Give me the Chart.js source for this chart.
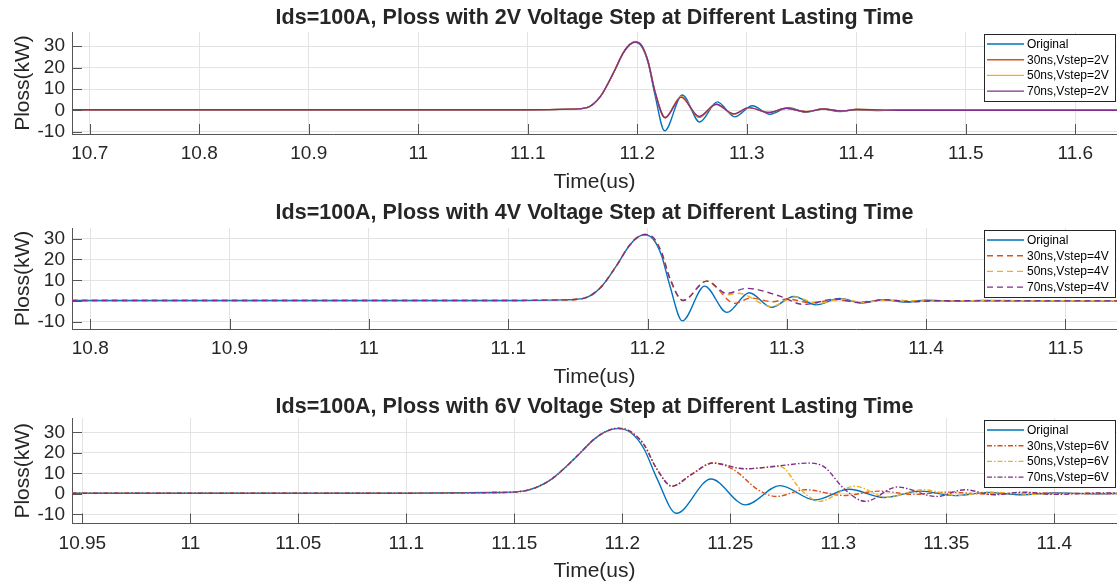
<!DOCTYPE html>
<html>
<head>
<meta charset="utf-8">
<script src="https://cdn.jsdelivr.net/npm/chart.js@4.4.1/dist/chart.umd.min.js"></script>
<style>
html,body{margin:0;padding:0;background:#ffffff;}
body{width:1117px;height:588px;position:relative;overflow:hidden;}
canvas{position:absolute;left:0;}
</style>
</head>
<body>
<canvas id="c1" width="1117" height="196" style="top:0px"></canvas>
<canvas id="c2" width="1117" height="195" style="top:196px"></canvas>
<canvas id="c3" width="1117" height="197" style="top:391px"></canvas>
<script>
// ---------------- DATA ----------------
const panelTitles = [
  "Ids=100A, Ploss with 2V Voltage Step at Different Lasting Time",
  "Ids=100A, Ploss with 4V Voltage Step at Different Lasting Time",
  "Ids=100A, Ploss with 6V Voltage Step at Different Lasting Time"
];
const labels2V = ["Original", "30ns,Vstep=2V", "50ns,Vstep=2V", "70ns,Vstep=2V"];
const labels4V = ["Original", "30ns,Vstep=4V", "50ns,Vstep=4V", "70ns,Vstep=4V"];
const labels6V = ["Original", "30ns,Vstep=6V", "50ns,Vstep=6V", "70ns,Vstep=6V"];

const xTicks1 = [10.7, 10.8, 10.9, 11, 11.1, 11.2, 11.3, 11.4, 11.5, 11.6];
const xTicks2 = [10.8, 10.9, 11, 11.1, 11.2, 11.3, 11.4, 11.5];
const xTicks3 = [10.95, 11, 11.05, 11.1, 11.15, 11.2, 11.25, 11.3, 11.35, 11.4];
const yTicks = [-10, 0, 10, 20, 30];

// common rising edge (time us, Ploss kW)
const rise = [[10.60,0.3],[11.00,0.3],[11.10,0.3],[11.14,0.6],[11.154,1.3],[11.166,6.3],[11.178,17.3],[11.187,26.7],[11.193,30.7]];

const original = rise.concat([[11.198,31.8],[11.204,29.8],[11.210,22.0],[11.216,7.5],[11.225,-9.5],[11.241,7.2],[11.257,-5.4],[11.273,4.0],[11.289,-3.0],[11.305,2.2],[11.321,-1.8],[11.338,1.3],[11.354,-0.9],[11.369,0.7],[11.385,-0.5],[11.400,0.4],[11.420,0.0],[11.440,0.3],[11.500,0.1],[11.700,0.1]]);

// 2V step
const s2v30 = rise.concat([[11.198,32.0],[11.204,30.2],[11.210,22.5],[11.216,9.0],[11.2254,-3.4],[11.240,6.3],[11.2565,-3.3],[11.272,2.9],[11.288,-1.8],[11.302,1.3],[11.320,-1.0],[11.336,1.0],[11.354,-0.6],[11.370,0.7],[11.386,-0.3],[11.400,0.4],[11.440,0.1],[11.700,0.1]]);
const s2v50 = rise.concat([[11.198,32.2],[11.204,30.4],[11.210,22.6],[11.216,9.2],[11.2254,-3.2],[11.240,6.5],[11.2565,-3.0],[11.272,2.8],[11.288,-1.7],[11.302,1.3],[11.320,-1.0],[11.336,1.0],[11.354,-0.6],[11.370,0.7],[11.386,-0.3],[11.400,0.4],[11.440,0.1],[11.700,0.1]]);
const s2v70 = rise.concat([[11.198,31.9],[11.204,30.2],[11.210,22.5],[11.216,9.0],[11.2254,-3.4],[11.240,6.2],[11.2565,-2.8],[11.272,2.9],[11.288,-1.6],[11.302,1.3],[11.320,-1.0],[11.336,1.0],[11.354,-0.6],[11.370,0.7],[11.386,-0.3],[11.400,0.4],[11.440,0.1],[11.700,0.1]]);

// 4V step
const s4v30 = rise.concat([[11.198,32.0],[11.204,30.5],[11.210,23.5],[11.216,11.0],[11.2255,0.3],[11.2425,9.6],[11.2628,-1.1],[11.274,1.5],[11.290,-0.3],[11.300,1.0],[11.318,-0.8],[11.335,0.6],[11.352,-0.4],[11.370,0.4],[11.400,0.0],[11.440,0.2],[11.700,0.1]]);
const s4v50 = rise.concat([[11.198,32.0],[11.204,30.5],[11.210,23.5],[11.216,11.0],[11.2255,0.3],[11.2425,9.6],[11.257,3.0],[11.265,3.8],[11.289,-2.6],[11.306,2.0],[11.322,-1.2],[11.339,1.0],[11.355,-0.6],[11.370,0.4],[11.400,0.0],[11.440,0.2],[11.700,0.1]]);
const s4v70 = rise.concat([[11.198,32.0],[11.204,30.5],[11.210,23.5],[11.216,11.0],[11.2255,0.3],[11.2425,9.6],[11.2568,3.7],[11.2712,6.1],[11.295,2.4],[11.312,-1.6],[11.335,1.0],[11.352,-0.8],[11.370,0.6],[11.390,-0.3],[11.410,0.2],[11.440,0.1],[11.700,0.1]]);

// 6V step
const s6v30 = rise.concat([[11.198,32.0],[11.204,30.2],[11.210,24.0],[11.216,12.0],[11.223,3.7],[11.232,9.5],[11.242,15.0],[11.2516,11.7],[11.2632,1.7],[11.2714,-1.3],[11.2845,2.0],[11.3026,-0.8],[11.319,1.3],[11.335,-0.3],[11.350,0.8],[11.370,-0.2],[11.390,0.4],[11.420,0.0],[11.700,0.2]]);
const s6v50 = rise.concat([[11.198,32.0],[11.204,30.2],[11.210,24.0],[11.216,12.0],[11.223,3.7],[11.232,9.5],[11.242,15.0],[11.2566,12.2],[11.273,13.3],[11.2829,1.7],[11.2911,-3.7],[11.3076,3.7],[11.3224,-1.7],[11.3388,2.0],[11.355,-0.8],[11.370,0.8],[11.390,-0.2],[11.420,0.3],[11.700,0.1]]);
const s6v70 = rise.concat([[11.198,32.0],[11.204,30.2],[11.210,24.0],[11.216,12.0],[11.223,3.7],[11.232,9.5],[11.242,15.0],[11.2566,12.2],[11.273,13.7],[11.2862,15.0],[11.2936,13.0],[11.3026,2.5],[11.3125,-3.7],[11.3273,3.3],[11.3454,-1.3],[11.3586,2.0],[11.372,-0.5],[11.385,0.8],[11.400,-0.3],[11.420,0.4],[11.700,0.2]]);

// ---------------- STYLE / LAYOUT ----------------
const FONT = '"Liberation Sans", Arial, Helvetica, sans-serif';
const TXT = '#262626';
const COLORS = ['#0072BD', '#D95319', '#EDB120', '#7E2F8E'];
const GRID = '#e3e3e3';

const panels = [
  {id:'c1', H:196, plotTop:32, plotBottom:134,   titleCenter:18,   title:panelTitles[0], labels:labels2V, series:[original,s2v30,s2v50,s2v70], dash:[],          xr:[10.6838,11.638], yr:[-11.0,36.6], xt:xTicks1},
  {id:'c2', H:195, plotTop:32, plotBottom:133,   titleCenter:17.5, title:panelTitles[1], labels:labels4V, series:[original,s4v30,s4v50,s4v70], dash:[6,4],       xr:[10.7869,11.537], yr:[-13.4,35.1], xt:xTicks2},
  {id:'c3', H:197, plotTop:27, plotBottom:132.5, titleCenter:16,   title:panelTitles[2], labels:labels6V, series:[original,s6v30,s6v50,s6v70], dash:[5,2,1.5,2], xr:[10.9452,11.429], yr:[-14.5,37.0], xt:xTicks3}
];

const innerTicks = {
  id: 'innerTicks',
  afterDraw(chart) {
    const {ctx, chartArea, scales} = chart;
    ctx.save();
    ctx.strokeStyle = '#555555';
    ctx.lineWidth = 1;
    ctx.beginPath();
    scales.x.ticks.forEach(t => {
      const px = Math.round(scales.x.getPixelForValue(t.value)) + 0.5;
      ctx.moveTo(px, chartArea.bottom);
      ctx.lineTo(px, chartArea.bottom - 10);
    });
    scales.y.ticks.forEach(t => {
      const py = Math.round(scales.y.getPixelForValue(t.value)) + 0.5;
      ctx.moveTo(chartArea.left, py);
      ctx.lineTo(chartArea.left + 10, py);
    });
    ctx.stroke();
    ctx.restore();
  }
};

const insideLegend = {
  id: 'insideLegend',
  afterDraw(chart) {
    const {ctx, chartArea} = chart;
    const ds = chart.data.datasets;
    ctx.save();
    ctx.font = '12px ' + FONT;
    let maxW = 0;
    ds.forEach(d => { maxW = Math.max(maxW, ctx.measureText(d.label).width); });
    const rowH = 15.7, lineLen = 37, pad = 3;
    const w = Math.round(pad + lineLen + 3 + maxW + 6);
    const h = Math.round(rowH * ds.length + 4);
    const x0 = Math.round(chartArea.right - 2 - w);
    const y0 = Math.round(chartArea.top + 2);
    ctx.fillStyle = '#ffffff';
    ctx.fillRect(x0, y0, w, h);
    ctx.strokeStyle = '#262626';
    ctx.lineWidth = 1;
    ctx.strokeRect(x0 + 0.5, y0 + 0.5, w, h);
    ds.forEach((d, i) => {
      const y = y0 + 10 + i * rowH;
      ctx.strokeStyle = d.borderColor;
      ctx.lineWidth = d.borderWidth;
      ctx.setLineDash(d.borderDash || []);
      ctx.beginPath();
      ctx.moveTo(x0 + pad, y);
      ctx.lineTo(x0 + pad + lineLen, y);
      ctx.stroke();
      ctx.setLineDash([]);
      ctx.fillStyle = '#000000';
      ctx.textBaseline = 'middle';
      ctx.textAlign = 'left';
      ctx.fillText(d.label, x0 + pad + lineLen + 3, y + 0.5);
    });
    ctx.restore();
  }
};

function fmt(v) { return String(Math.round(v * 1000) / 1000); }

panels.forEach(p => {
  const titleSize = 21.5;
  const titleLH = titleSize * 1.0;
  const titlePadTop = p.titleCenter - titleLH / 2;
  const titlePadBottom = p.plotTop - titleLH - titlePadTop;
  const xScaleH = p.H - p.plotBottom;
  const xTitleBottomPad = p.H - (p.plotBottom + 48) - 12.6;
  const datasets = p.series.map((s, i) => ({
    label: p.labels[i],
    data: s.map(([x, y]) => ({x, y})),
    borderColor: COLORS[i],
    backgroundColor: COLORS[i],
    borderWidth: 1.4,
    borderDash: i === 0 ? [] : p.dash,
    pointRadius: 0,
    fill: false,
    cubicInterpolationMode: 'monotone',
    order: 4 - i
  }));
  new Chart(document.getElementById(p.id), {
    type: 'line',
    data: { datasets },
    plugins: [innerTicks, insideLegend],
    options: {
      responsive: false,
      animation: false,
      events: [],
      layout: { padding: 0 },
      plugins: {
        legend: { display: false },
        tooltip: { enabled: false },
        title: {
          display: true,
          text: p.title,
          color: TXT,
          fullSize: false,
          font: { family: FONT, size: titleSize, weight: 'bold', lineHeight: 1.0 },
          padding: { top: titlePadTop, bottom: titlePadBottom }
        }
      },
      scales: {
        x: {
          type: 'linear',
          min: p.xr[0], max: p.xr[1],
          afterBuildTicks: sc => { sc.ticks = p.xt.map(v => ({value: v})); },
          afterFit: sc => { sc.height = xScaleH; },
          ticks: {
            autoSkip: false, maxRotation: 0, minRotation: 0,
            padding: 8.6, color: TXT,
            font: { family: FONT, size: 19 },
            callback: v => fmt(v)
          },
          grid: { color: GRID, lineWidth: 1, drawTicks: false },
          border: { display: true, color: '#555555', width: 1 },
          title: {
            display: true, text: 'Time(us)', color: TXT,
            font: { family: FONT, size: 21, lineHeight: 1.2 },
            padding: { top: 0, bottom: xTitleBottomPad }
          }
        },
        y: {
          type: 'linear',
          min: p.yr[0], max: p.yr[1],
          afterBuildTicks: sc => { sc.ticks = yTicks.map(v => ({value: v})); },
          afterFit: sc => { sc.width = 72; },
          ticks: {
            autoSkip: false,
            padding: 7, color: TXT,
            font: { family: FONT, size: 19 },
            callback: v => fmt(v)
          },
          grid: { color: GRID, lineWidth: 1, drawTicks: false },
          border: { display: true, color: '#555555', width: 1 },
          title: {
            display: true, text: 'Ploss(kW)', color: TXT,
            font: { family: FONT, size: 21, lineHeight: 1.2 },
            padding: { top: 10.4, bottom: 0 }
          }
        }
      }
    }
  });
});
</script>
</body>
</html>
